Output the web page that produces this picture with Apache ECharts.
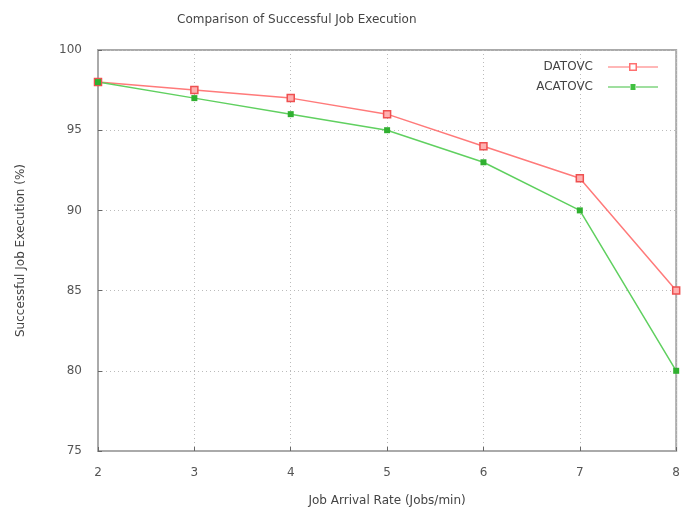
<!DOCTYPE html>
<html>
<head>
<meta charset="utf-8">
<script src="https://cdn.jsdelivr.net/npm/echarts@6/dist/echarts.min.js"></script>
<style>
  html, body { margin: 0; padding: 0; background: #fff; }
  #chart { width: 683px; height: 517px; }
</style>
</head>
<body>
<div id="chart"></div>
<script>
const rates = [2, 3, 4, 5, 6, 7, 8];
const datovc = [98, 97.5, 97, 96, 94, 92, 85];
const acatovc = [98, 97, 96, 95, 93, 90, 80];

const font = 'DejaVu Sans';
const chart = echarts.init(document.getElementById('chart'));
chart.setOption({
  animation: false,
  title: {
    text: 'Comparison of Successful Job Execution',
    left: 172, top: 9,
    textStyle: { fontFamily: font, fontSize: 12, fontWeight: 'normal', color: '#444' }
  },
  legend: {
    right: 20, top: 56, orient: 'vertical', align: 'right',
    itemWidth: 50, itemHeight: 10, itemGap: 8,
    textStyle: { fontFamily: font, fontSize: 12, color: '#444', padding: [0, 10, 0, 0] },
    data: [
      { name: 'DATOVC', icon: 'path://M0,4.5H21V5.5H0ZM29,4.5H50V5.5H29ZM21,1H29V2.5H21ZM21,7.5H29V9H21ZM21,1H22.5V9H21ZM27.5,1H29V9H27.5Z',
        itemStyle: { color: '#ff7070', borderWidth: 0 } },
      { name: 'ACATOVC', icon: 'path://M0,4.5H22V5.5H0ZM28,4.5H50V5.5H28ZM22.5,2H27.5V8H22.5Z',
        itemStyle: { color: '#40c040', borderWidth: 0 } }
    ]
  },
  grid: { left: 98, right: 3, top: 50, bottom: 66, show: true, borderColor: '#aaa', borderWidth: 2 },
  xAxis: {
    type: 'value', min: 2, max: 8, interval: 1,
    name: 'Job Arrival Rate (Jobs/min)', nameLocation: 'middle', nameGap: 44,
    nameTextStyle: { fontFamily: font, fontSize: 12, color: '#444' },
    axisLine: { lineStyle: { color: '#aaa', width: 2 } },
    axisTick: { inside: true, length: 4, lineStyle: { color: '#666' } },
    axisLabel: { fontFamily: font, fontSize: 12, color: '#555', margin: 16 },
    splitLine: { show: true, lineStyle: { color: '#bbb', type: [1, 3] } }
  },
  yAxis: {
    type: 'value', min: 75, max: 100, interval: 5,
    name: 'Successful Job Execution (%)', nameLocation: 'middle', nameGap: 71,
    nameTextStyle: { fontFamily: font, fontSize: 12, color: '#444' },
    axisLine: { show: true, lineStyle: { color: '#aaa', width: 2 } },
    axisTick: { show: true, inside: true, length: 4, lineStyle: { color: '#666' } },
    axisLabel: { fontFamily: font, fontSize: 12, color: '#555', margin: 16 },
    splitLine: { show: true, lineStyle: { color: '#bbb', type: [1, 3] } }
  },
  series: [
    {
      name: 'DATOVC', type: 'line',
      data: rates.map((x, i) => [x, datovc[i]]),
      color: '#ff7070',
      lineStyle: { width: 1.5, color: '#ff7a7a' },
      symbol: 'rect', symbolSize: 7,
      itemStyle: { color: '#ffb0b0', borderColor: '#ee5050', borderWidth: 1.5 }
    },
    {
      name: 'ACATOVC', type: 'line',
      data: rates.map((x, i) => [x, acatovc[i]]),
      color: '#40c040',
      lineStyle: { width: 1.5, color: '#60d060' },
      symbol: 'rect', symbolSize: 6,
      itemStyle: { color: '#30b030' }
    }
  ]
});
</script>
</body>
</html>
